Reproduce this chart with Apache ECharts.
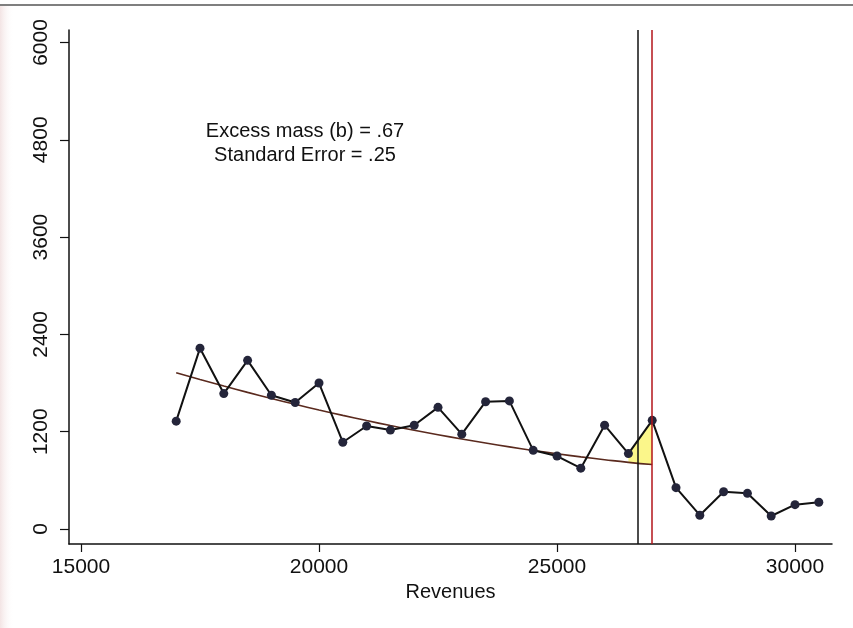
<!DOCTYPE html>
<html>
<head>
<meta charset="utf-8">
<script src="https://cdn.jsdelivr.net/npm/echarts@6/dist/echarts.min.js"></script>
<style>
  html, body { margin: 0; padding: 0; background: #fff; }
  #main { width: 853px; height: 628px; }
</style>
</head>
<body>
<div id="main"></div>
<script>
// revenue bins (every 500)
var bins = [17000, 17500, 18000, 18500, 19000, 19500, 20000, 20500, 21000, 21500,
  22000, 22500, 23000, 23500, 24000, 24500, 25000, 25500, 26000, 26500,
  27000, 27500, 28000, 28500, 29000, 29500, 30000, 30500];
// observed counts
var counts = [1330, 2230, 1670, 2080, 1650, 1560, 1800, 1070, 1270, 1220,
  1280, 1500, 1170, 1570, 1580, 970, 900, 750, 1280, 930,
  1340, 510, 170, 460, 440, 160, 300, 330];
// counterfactual fit, 17000 .. 27000
var fitBins = [17000, 17500, 18000, 18500, 19000, 19500, 20000, 20500, 21000, 21500,
  22000, 22500, 23000, 23500, 24000, 24500, 25000, 25500, 26000, 26500, 27000];
var fitValues = [1928, 1844, 1763, 1685, 1610, 1538, 1468, 1401, 1337, 1276,
  1218, 1163, 1110, 1060, 1013, 969, 928, 890, 855, 822, 795];
// excess mass area between these bins
var excessBins = [26500, 27000];
var lowerBound = 26700;
var threshold = 27000;

var yTicks = [0, 1200, 2400, 3600, 4800, 6000];
var xTicks = [15000, 20000, 25000, 30000];
var noteLines = ['Excess mass (b) = .67', 'Standard Error = .25'];

var obs = bins.map(function (b, i) { return [b, counts[i]]; });
var fit = fitBins.map(function (b, i) { return [b, fitValues[i]]; });

var myChart = echarts.init(document.getElementById('main'));
var font = '"Liberation Sans", Arial, sans-serif';
var plain = function (v) { return String(v); };

myChart.setOption({
  backgroundColor: '#fff',
  animation: false,
  grid: { left: 69, right: 21, top: 30, bottom: 84 },
  graphic: [
    {
      type: 'line', shape: { x1: 0, y1: 5, x2: 853, y2: 5 },
      style: { stroke: '#555', lineWidth: 1.5 }
    },
    {
      type: 'rect', shape: { x: 0, y: 6, width: 14, height: 622 },
      style: {
        fill: new echarts.graphic.LinearGradient(0, 0, 1, 0, [
          { offset: 0, color: 'rgba(235,210,210,0.6)' },
          { offset: 1, color: 'rgba(255,255,255,0)' }
        ])
      }
    },
    {
      type: 'text', x: 305, y: 119,
      style: {
        text: noteLines.join('\n'), align: 'center', verticalAlign: 'top',
        font: '20px ' + font, fill: '#111', lineHeight: 24
      }
    }
  ],
  xAxis: {
    type: 'value',
    min: 14748,
    max: 30777,
    name: 'Revenues',
    nameLocation: 'middle',
    nameGap: 37,
    nameTextStyle: { color: '#111', fontSize: 20, fontFamily: font },
    axisLine: { onZero: false, lineStyle: { color: '#111', width: 1.5 } },
    axisTick: { show: true, length: 8, customValues: xTicks, lineStyle: { color: '#111', width: 1.2 } },
    axisLabel: { customValues: xTicks, formatter: plain, color: '#111', fontSize: 21, fontFamily: font, margin: 13 },
    splitLine: { show: false }
  },
  yAxis: {
    type: 'value',
    min: -185,
    max: 6154,
    axisLine: { show: true, lineStyle: { color: '#111', width: 1.5 } },
    axisTick: { show: true, length: 9, customValues: yTicks, lineStyle: { color: '#111', width: 1.2 } },
    axisLabel: { customValues: yTicks, formatter: plain, rotate: 90, color: '#111', fontSize: 21, fontFamily: font, margin: 17 },
    splitLine: { show: false }
  },
  series: [
    {
      // yellow excess area between observed and fit
      type: 'custom',
      z: 1,
      data: [0],
      renderItem: function (params, api) {
        var pts = [];
        excessBins.forEach(function (b) {
          pts.push(api.coord([b, counts[bins.indexOf(b)]]));
        });
        excessBins.slice().reverse().forEach(function (b) {
          pts.push(api.coord([b, fitValues[fitBins.indexOf(b)]]));
        });
        return {
          type: 'polygon',
          shape: { points: pts },
          style: { fill: '#fbf68a', stroke: null }
        };
      },
      silent: true
    },
    {
      type: 'line',
      data: fit,
      z: 2,
      symbol: 'none',
      smooth: true,
      lineStyle: { color: '#5a2a1e', width: 1.6 }
    },
    {
      type: 'line',
      data: obs,
      z: 3,
      symbol: 'circle',
      symbolSize: 9,
      itemStyle: { color: '#24253a' },
      lineStyle: { color: '#111', width: 2 },
      markLine: {
        silent: true,
        symbol: 'none',
        label: { show: false },
        data: [
          { xAxis: lowerBound, lineStyle: { color: '#111', width: 1.5, type: 'solid' } },
          { xAxis: threshold, lineStyle: { color: '#b3141a', width: 1.5, type: 'solid' } }
        ]
      }
    }
  ]
});
</script>
</body>
</html>
